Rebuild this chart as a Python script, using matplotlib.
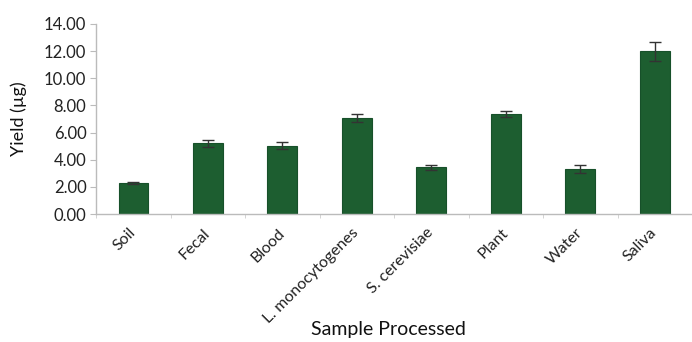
import matplotlib
matplotlib.use("Agg")
import matplotlib.pyplot as plt
import numpy as np

categories = ["Soil", "Fecal", "Blood", "L. monocytogenes", "S. cerevisiae", "Plant", "Water", "Saliva"]
yields = [2.28, 5.2, 5.05, 7.1, 3.45, 7.37, 3.3, 12.0]
errors = [0.1, 0.25, 0.25, 0.3, 0.2, 0.25, 0.3, 0.7]
yticks = [0, 2, 4, 6, 8, 10, 12, 14]

plt.rcParams['font.family'] = ['Lato', 'DejaVu Sans']
fig = plt.figure(figsize=(6.92, 3.42), dpi=100)
ax = fig.add_axes([0.139, 0.374, 0.861, 0.556])
x = np.arange(len(categories))
ax.bar(x, yields, width=0.4, color="#1d5e30", edgecolor="#17502a", linewidth=0.8,
       yerr=errors, error_kw=dict(ecolor="#333333", elinewidth=1.0, capsize=4, capthick=1.0))
ax.set_xlim(-0.5, len(categories) - 0.5)
ax.set_ylim(0, 14)
ax.set_yticks(yticks)
ax.set_yticklabels([f"{v:.2f}" for v in yticks], fontsize=12, color="#222222")
ax.set_xticks(x)
ax.set_xticklabels(categories, rotation=45, ha="right", va="center", rotation_mode="anchor",
                   fontsize=11.5, color="#222222")
ax.tick_params(axis="x", length=0, pad=12)
ax.set_xticks(np.arange(len(categories) + 1) - 0.5, minor=True)
ax.tick_params(axis="x", which="minor", length=3, color="#cccccc")
ax.tick_params(axis="y", length=4, color="#bbbbbb", pad=3)
for s in ["top", "right"]:
    ax.spines[s].set_visible(False)
for s in ["left", "bottom"]:
    ax.spines[s].set_color("#bbbbbb")
    ax.spines[s].set_linewidth(1.0)
ax.set_ylabel("Yield (µg)", fontsize=13, color="#111111", labelpad=12)
fig.text(0.562, 0.02, "Sample Processed", ha="center", va="baseline", fontsize=14, color="#111111")
fig.savefig("out.png", dpi=100)
